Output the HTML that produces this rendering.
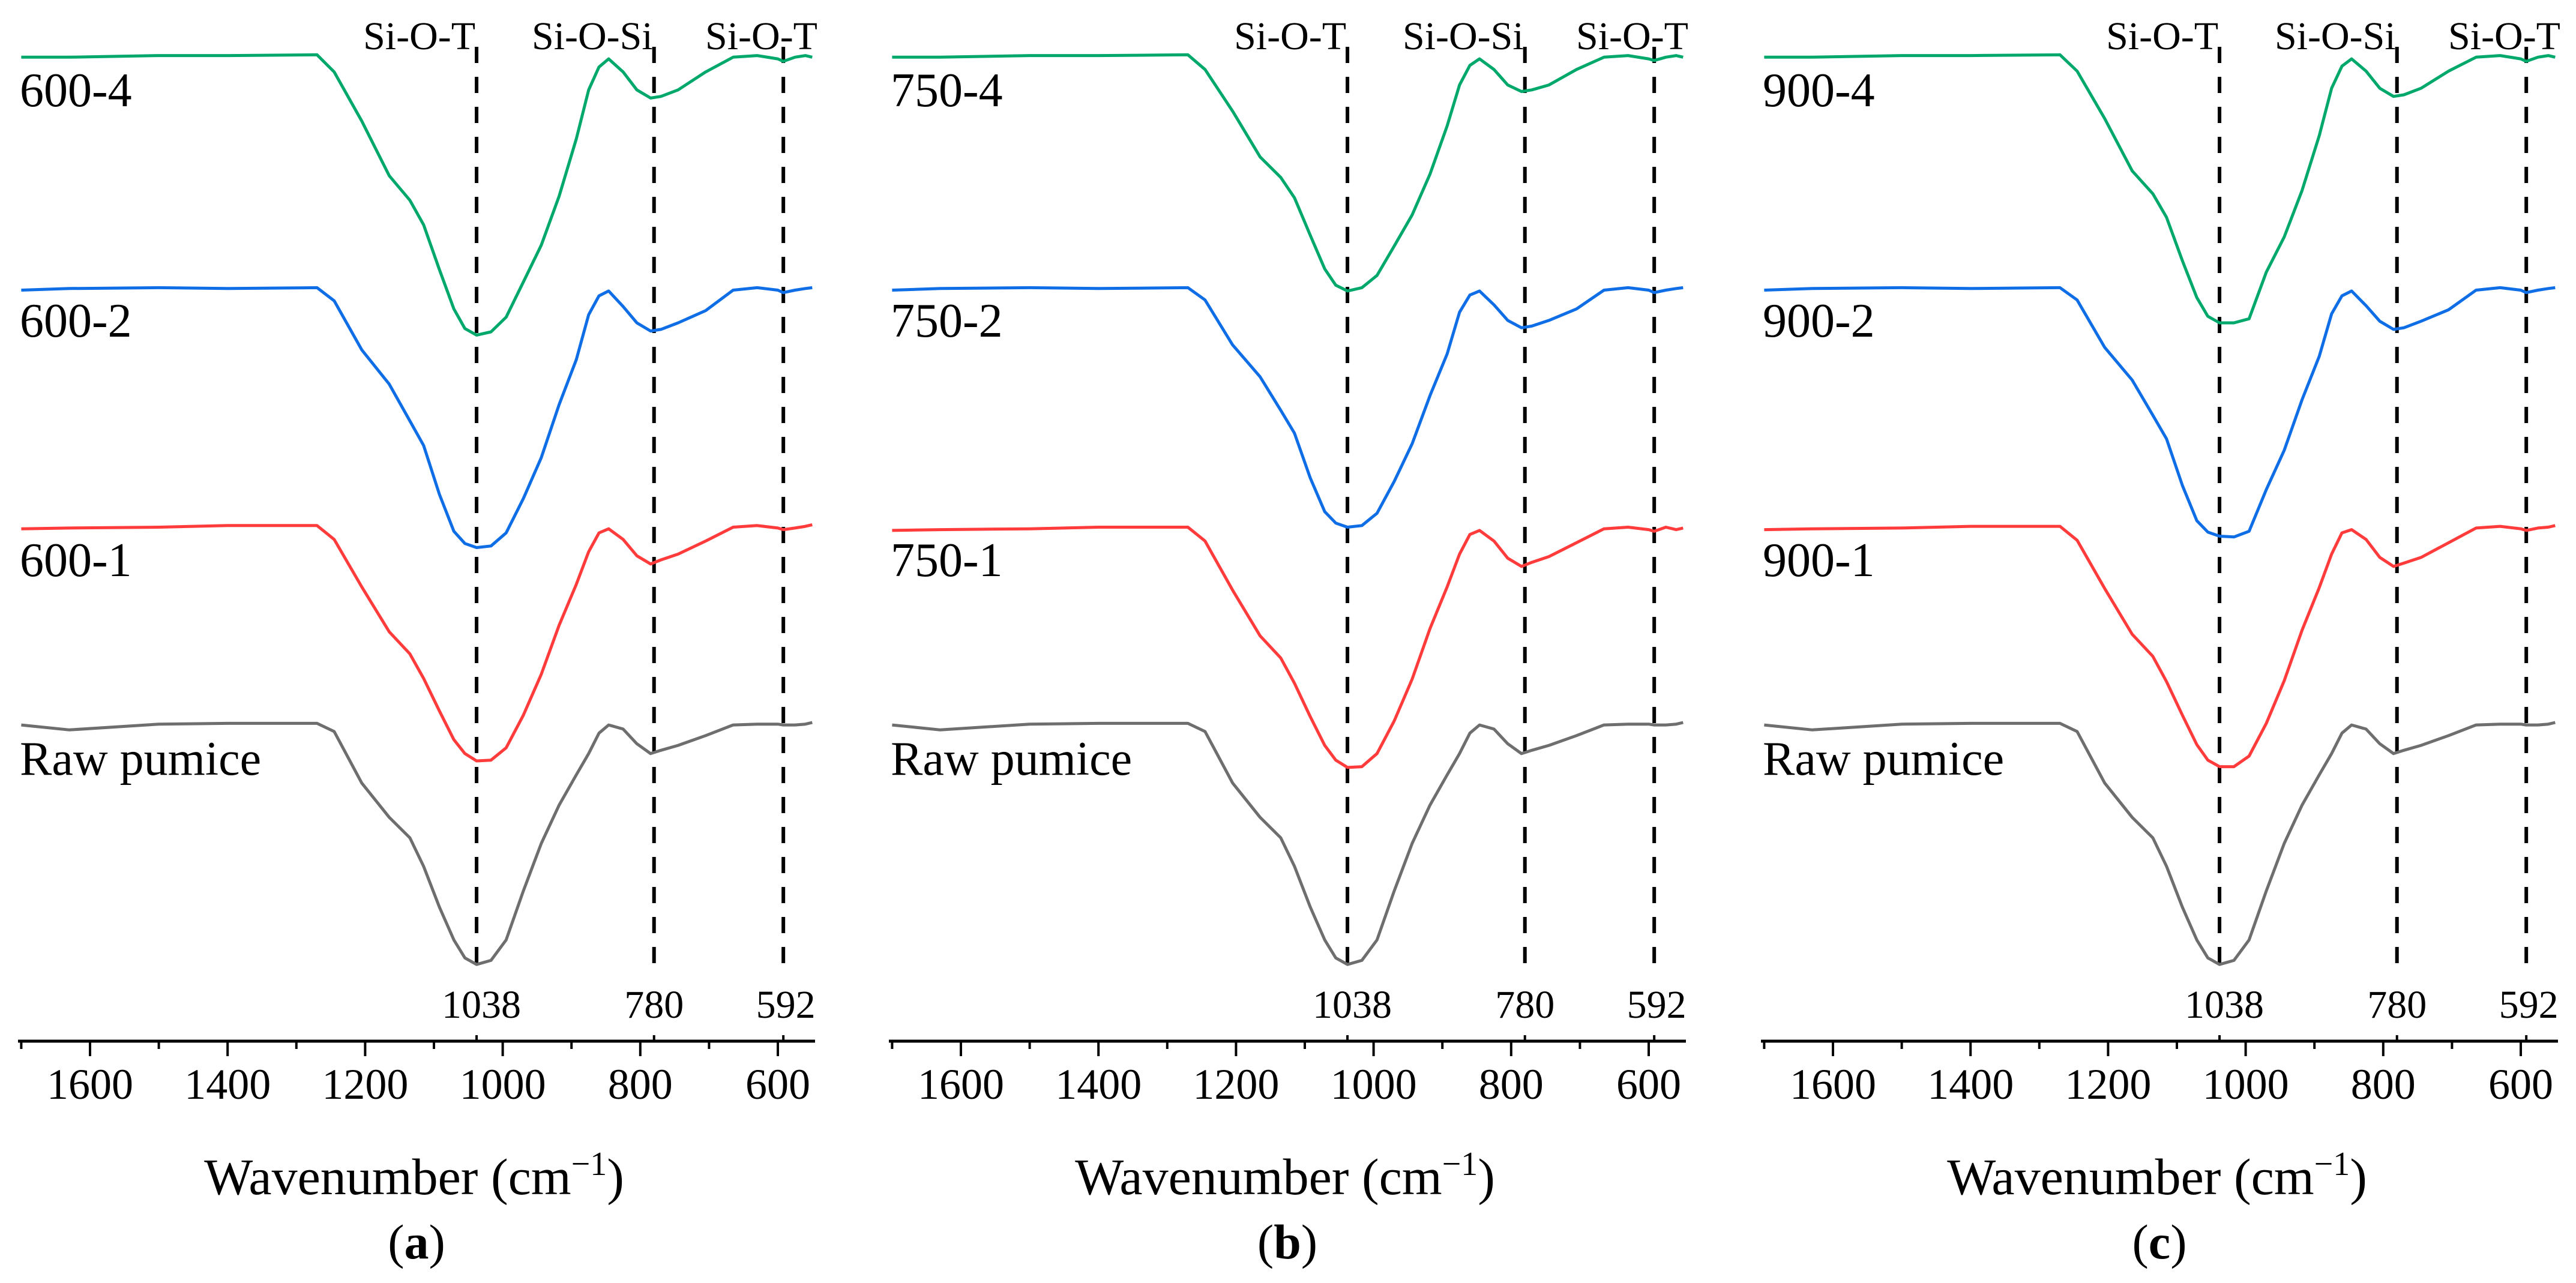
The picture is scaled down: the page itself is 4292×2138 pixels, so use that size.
<!DOCTYPE html>
<html><head><meta charset="utf-8"><style>
html,body{margin:0;padding:0;background:#fff;}
svg{display:block;}
text{font-family:"Liberation Serif",serif;fill:#000;}
</style></head><body>
<svg id="fig" width="4292" height="2138" viewBox="0 0 4292 2138" xmlns="http://www.w3.org/2000/svg"></svg>
<script>
// ---- data ----
const wavenumbers = [1700,1630,1500,1400,1270,1245,1205,1165,1135,1115,1092,1071,1055,1038,1017,995,970,944,918,893,875,860,846,825,805,785,770,745,705,665,630,600,592,575,560,550];
const rawPumice = [887,893,886,885,885,895,958,1000,1025,1060,1110,1150,1172,1180,1175,1150,1090,1032,985,948,922,897,887,892,910,922,918,912,900,887,886,886,887,887,886,884];
const a_s1 = [647,646,645,643,643,660,718,773,800,830,870,905,922,931,930,915,875,825,765,715,675,652,647,660,680,690,685,678,662,645,643,646,648,646,644,642];
const a_s2 = [355,353,352,353,352,368,428,470,515,545,605,650,665,670,668,652,610,560,495,440,385,362,356,375,395,405,403,395,380,355,352,355,358,355,353,352];
const a_s4 = [70,70,68,68,67,88,148,215,245,275,330,378,402,410,406,388,345,300,240,170,110,82,72,88,110,120,118,110,88,70,68,72,75,70,68,70];
const b_s1 = [649,648,647,645,645,662,722,778,805,836,877,912,930,939,938,922,882,831,769,718,678,654,649,662,683,693,688,681,664,647,645,648,650,645,648,646];
const b_s2 = [355,353,352,353,352,367,422,461,502,530,585,626,640,645,643,628,589,543,484,433,382,361,356,373,392,401,399,392,378,355,352,355,358,355,353,352];
const b_s4 = [70,70,68,68,67,85,136,192,217,242,288,329,349,356,352,337,301,263,213,154,104,80,72,85,104,112,110,104,85,70,68,72,74,70,68,70];
const c_s1 = [648,647,646,644,644,661,720,776,803,834,875,911,930,938,938,925,885,833,771,719,678,652,648,660,682,693,689,682,664,646,644,647,649,646,645,643];
const c_s2 = [355,353,352,353,352,367,425,465,508,537,594,637,651,656,657,650,599,551,489,436,384,362,356,374,393,403,401,393,379,355,352,355,358,355,353,352];
const c_s4 = [70,70,68,68,67,87,145,209,237,266,319,364,387,395,395,390,333,290,233,166,108,81,72,87,108,118,116,108,87,70,68,72,75,70,68,70];
const panelLetters = ["a","b","c"];
const panelTemps = ["600","750","900"];
const seriesSuffixes = ["4","2","1"];
const majorTicks = [1600,1400,1200,1000,800,600];
const minorTicks = [1700,1500,1300,1100,900,700];
const peakPositions = [1038,780,592];
const peakNames = ["Si-O-T","Si-O-Si","Si-O-T"];

const NS="http://www.w3.org/2000/svg";
const svg=document.getElementById('fig');
function mk(tag,attrs,parent){const e=document.createElementNS(NS,tag);for(const k in attrs)e.setAttribute(k,attrs[k]);(parent||svg).appendChild(e);return e;}
const panelOffsets=[0,1451,2904];
const colors=["#00a86b","#0f6ee6","#ff3b3b","#6e6e6e"];
const panelData=[[a_s4,a_s2,a_s1],[b_s4,b_s2,b_s1],[c_s4,c_s2,c_s1]];
const labelBase=[177,561,960];

panelOffsets.forEach((ox,pi)=>{
  const xS=wn=>ox+150+(1600-wn)*1.146;
  const yS=v=>v*1.362;
  const g=mk('g',{});
  
  
  peakPositions.forEach((p,i)=>{
    const l=mk('line',{x1:xS(p),x2:xS(p),y1:78,y2:1620,stroke:'#000','stroke-width':6,'stroke-dasharray':'27 23'},g);
    
    
    const t=mk('text',{x:i<2?xS(p)-2:ox+1362,y:82,'font-size':66,'text-anchor':'end'},g);
    t.textContent=peakNames[i];
    
    
    const n=mk('text',{x:xS(p)+(i==0?8:(i==2?4:0)),y:1696,'font-size':66,'text-anchor':'middle'},g);
    n.textContent=String(p);
    
    
  });
  const all=[...panelData[pi],rawPumice];
  all.forEach((arr,si)=>{
    const d=arr.map((v,k)=>(k?'L':'M')+xS(wavenumbers[k]).toFixed(1)+' '+yS(v).toFixed(1)).join(' ');
    const p=mk('path',{d:d,fill:'none',stroke:colors[si],'stroke-width':5,'stroke-linejoin':'round'},g);
    
    
  });
  const names=[panelTemps[pi]+'-4',panelTemps[pi]+'-2',panelTemps[pi]+'-1'];
  names.forEach((nm,i)=>{
    const t=mk('text',{x:ox+33,y:labelBase[i],'font-size':80},g);
    t.textContent=nm;
    
    
  });
  const rp=mk('text',{x:ox+33,y:1291,'font-size':80},g);
  rp.textContent='Raw pumice';
  
  
  const ax=mk('line',{x1:ox+30,x2:ox+1358,y1:1735,y2:1735,stroke:'#000','stroke-width':5},g);
  
  
  majorTicks.forEach(t=>{
    const l=mk('line',{x1:xS(t),x2:xS(t),y1:1735,y2:1760,stroke:'#000','stroke-width':4},g);
    
    
    const tx=mk('text',{x:xS(t),y:1831,'font-size':72,'text-anchor':'middle'},g);
    tx.textContent=String(t);
    
    
  });
  minorTicks.forEach(t=>{
    const l=mk('line',{x1:xS(t),x2:xS(t),y1:1735,y2:1748,stroke:'#000','stroke-width':4},g);
    
    
  });
  peakPositions.forEach(p=>{
    const l=mk('line',{x1:xS(p),x2:xS(p),y1:1725,y2:1735,stroke:'#000','stroke-width':4},g);
    
    
  });
  const title=mk('text',{x:ox+690,y:1990,'font-size':86,'text-anchor':'middle'},g);
  title.innerHTML='Wavenumber (cm<tspan dy="-32" font-size="56">−1</tspan><tspan dy="32">)</tspan>';
  
  
  const pl=mk('text',{x:ox+694,y:2097,'font-size':82,'text-anchor':'middle'},g);
  pl.innerHTML='(<tspan font-weight="bold">'+panelLetters[pi]+'</tspan>)';
  
  
});
</script>
</body></html>
